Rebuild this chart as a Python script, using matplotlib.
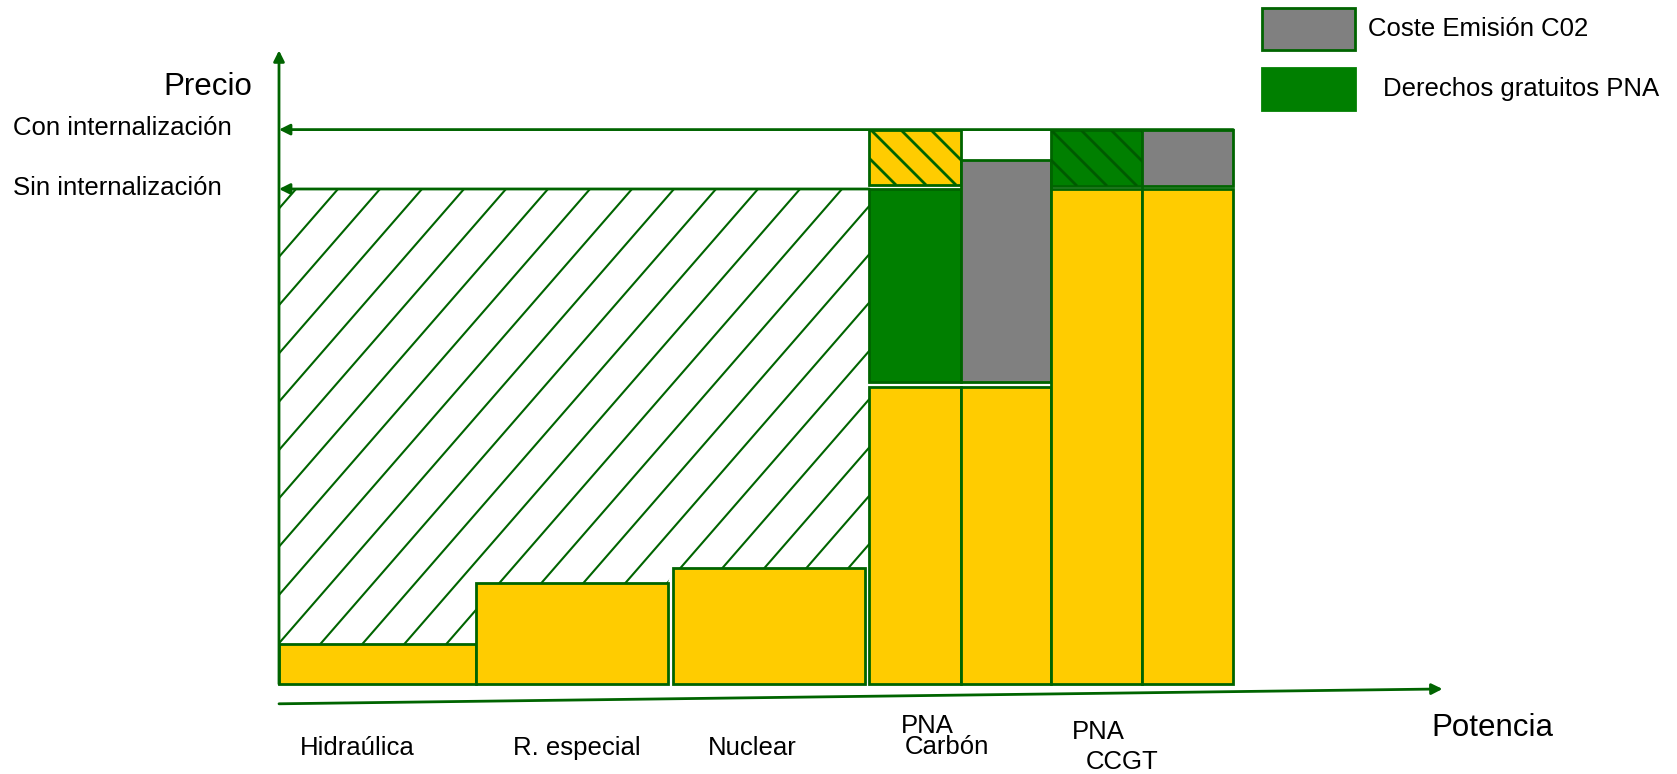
import matplotlib
matplotlib.use("Agg")
import matplotlib.pyplot as plt
from matplotlib.patches import Rectangle, Polygon
from matplotlib.lines import Line2D
from matplotlib.transforms import IdentityTransform

plt.rcParams["font.family"] = ["Liberation Sans", "DejaVu Sans"]

AMARILLO = "#FFCC00"
VERDE = "#007F00"
VERDE_OSCURO = "#005A00"
BORDE = "#006400"
GRIS = "#808080"

# niveles de precio marginal
precio_sin = 100
precio_con = 112

# tecnologías de base: inicio, anchura (potencia) y coste
tecnologias = ["Hidraúlica", "R. especial", "Nuclear"]
inicio_tec = [0.0, 2.05, 4.10]
ancho_tec = [2.05, 2.0, 2.0]
coste_tec = [8.0, 20.4, 23.4]

# columnas térmicas (Carbón x2, CCGT x2)
inicio_term = [6.15, 7.10, 8.04, 8.99]
ancho_term = [0.95, 0.94, 0.95, 0.95]

# tramos apilados en cada columna térmica
tramo_col = [0, 0, 0, 1, 1, 2, 2, 3, 3]
tramo_ini = [0.0, 61.0, 100.8, 0.0, 61.0, 0.0, 100.6, 0.0, 100.6]
tramo_fin = [60.0, 100.0, 112.0, 60.0, 105.9, 100.0, 112.0, 100.0, 112.0]
tramo_tipo = ["coste", "pna", "coste_r", "coste", "co2", "coste", "pna_r", "coste", "co2"]

estilo = {
    "coste": (AMARILLO, None),
    "coste_r": (AMARILLO, BORDE),
    "pna": (VERDE, None),
    "pna_r": (VERDE, VERDE_OSCURO),
    "co2": (GRIS, None),
}

# escala: píxeles por unidad de potencia y de precio
PX_X, PX_Y = 96.0, 4.95
W, H = 1677, 774
X0, Y0 = 279, 684


def rayar(ax, patch, paso, pendiente, ref, color, lw, zorder):
    """Rayado de líneas paralelas en píxeles, recortado a la forma dada."""
    bb = patch.get_window_extent()
    for k in range(-80, 80):
        xr = ref[0] + k * paso
        xa = xr + (bb.y0 - ref[1]) / pendiente
        xb = xr + (bb.y1 - ref[1]) / pendiente
        if max(xa, xb) < bb.x0 - 5 or min(xa, xb) > bb.x1 + 5:
            continue
        ln = Line2D([xa, xb], [bb.y0, bb.y1], transform=IdentityTransform(),
                    color=color, lw=lw, zorder=zorder, solid_capstyle="butt")
        ax.add_artist(ln)
        ln.set_clip_path(patch)


fig = plt.figure(figsize=(W / 100, H / 100), dpi=100)
ax = fig.add_axes([0, 0, 1, 1])
ax.set_xlim(-X0 / PX_X, (W - X0) / PX_X)
ax.set_ylim(-(H - Y0) / PX_Y, Y0 / PX_Y)
ax.axis("off")

# zona rayada entre el coste de cada tecnología y el precio sin internalizar
verts = [(0, precio_sin)]
verts.append((0, coste_tec[0]))
for x, w, c in zip(inicio_tec, ancho_tec, coste_tec):
    verts += [(x, c), (x + w, c)]
verts += [(inicio_term[0], coste_tec[-1]), (inicio_term[0], precio_sin)]
zona = Polygon(verts, closed=True, facecolor="none", edgecolor="none", zorder=1)
ax.add_patch(zona)
rayar(ax, zona, 42, 1.15, (338, H - 189), BORDE, 1.5, 2)

# barras de tecnologías de base
ax.bar(inicio_tec, coste_tec, width=ancho_tec, align="edge", color=AMARILLO,
       edgecolor=BORDE, linewidth=2, zorder=3)

# tramos de las columnas térmicas
for col, y0, y1, tipo in zip(tramo_col, tramo_ini, tramo_fin, tramo_tipo):
    fondo, raya = estilo[tipo]
    barras = ax.bar(inicio_term[col], y1 - y0, bottom=y0, width=ancho_term[col],
                    align="edge", color=fondo, edgecolor=BORDE, linewidth=2, zorder=3)
    if raya:
        rayar(ax, barras[0], 30, -1.0, (900, H - 129), raya, 2.0, 4)

# ejes con flecha
flecha = dict(arrowstyle="-|>", color=BORDE, lw=2, mutation_scale=16,
              shrinkA=0, shrinkB=0)
ax.annotate("", xy=(0, 128), xytext=(0, 0), arrowprops=flecha, zorder=5)
ax.annotate("", xy=(12.12, -1.0), xytext=(0, -4.0), arrowprops=flecha, zorder=5)
ax.annotate("", xy=(0, precio_con), xytext=(inicio_term[-1] + ancho_term[-1], precio_con),
            arrowprops=flecha, zorder=5)
ax.annotate("", xy=(0, precio_sin), xytext=(inicio_term[0], precio_sin),
            arrowprops=flecha, zorder=5)

fs = 18.5
ax.text(-0.28, 119.0, "Precio", fontsize=22.5, ha="right", va="baseline")
ax.text(-2.77, precio_con - 1.1, "Con internalización", fontsize=fs, va="baseline")
ax.text(-2.77, precio_sin - 1.2, "Sin internalización", fontsize=fs, va="baseline")
ax.text(12.0, -10.5, "Potencia", fontsize=22.5, va="baseline")

for nombre, xc in zip(tecnologias, [0.82, 3.10, 4.93]):
    ax.text(xc, -14.3, nombre, fontsize=fs, ha="center", va="baseline")
ax.text(6.75, -9.9, "PNA", fontsize=fs, ha="center", va="baseline")
ax.text(6.96, -14.1, "Carbón", fontsize=fs, ha="center", va="baseline")
ax.text(8.53, -11.1, "PNA", fontsize=fs, ha="center", va="baseline")
ax.text(8.78, -17.2, "CCGT", fontsize=fs, ha="center", va="baseline")

# leyenda
ax.add_patch(Rectangle((1262 / W, 1 - 50 / H), 93 / W, 42 / H, transform=ax.transAxes,
                       facecolor=GRIS, edgecolor=BORDE, lw=2))
ax.add_patch(Rectangle((1262 / W, 1 - 110 / H), 93 / W, 42 / H, transform=ax.transAxes,
                       facecolor=VERDE, edgecolor=VERDE, lw=2))
ax.text(1368 / W, 1 - 36 / H, "Coste Emisión C02", fontsize=fs, transform=ax.transAxes,
        va="baseline")
ax.text(1383 / W, 1 - 96 / H, "Derechos gratuitos PNA", fontsize=fs, transform=ax.transAxes,
        va="baseline")

fig.savefig("out.png", dpi=100)
